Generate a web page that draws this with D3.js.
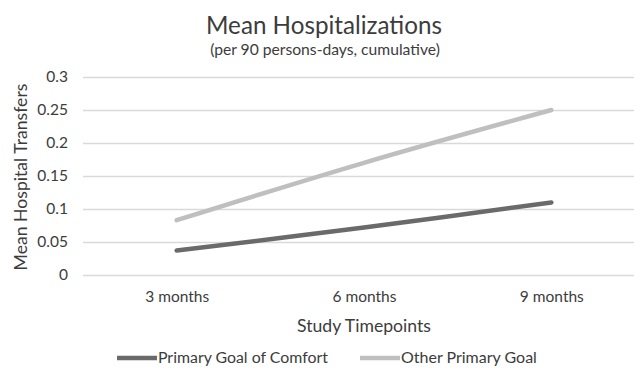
<!DOCTYPE html>
<html>
<head>
<meta charset="utf-8">
<script src="https://cdn.jsdelivr.net/npm/d3@7/dist/d3.min.js"></script>
<style>
  html, body { margin: 0; padding: 0; background: #fff; }
  svg { display: block; font-family: Lato, "Open Sans", sans-serif; }
</style>
</head>
<body>
<svg id="chart" width="634" height="369"></svg>
<script>
// Study timepoints and the mean hospital transfers per group
const timepoints = ["3 months", "6 months", "9 months"];
const comfortGoal = [0.037, 0.072, 0.11];
const otherGoal = [0.083, 0.17, 0.25];
const yTicks = [0, 0.05, 0.1, 0.15, 0.2, 0.25, 0.3];
const seriesNames = ["Primary Goal of Comfort", "Other Primary Goal"];
const seriesColors = ["#6a6a6a", "#bfbfbf"];

const svg = d3.select("#chart");
const textColor = "#3c3c3c";
const plot = { left: 83, right: 645, top: 77, bottom: 275 };

// Scale a text element's font size so it spans the given width
function fitWidth(sel, width) {
  sel.each(function () {
    const el = d3.select(this);
    const fs = parseFloat(el.attr("font-size"));
    const w = this.getComputedTextLength();
    if (w > 0) el.attr("font-size", (fs * width / w).toFixed(2));
  });
  return sel;
}

const x = d3.scalePoint().domain(timepoints).range([plot.left, plot.right]).padding(0.5);
const y = d3.scaleLinear().domain([0, 0.3]).range([plot.bottom, plot.top]);

// Title
fitWidth(svg.append("text").attr("x", 324).attr("y", 34).attr("text-anchor", "middle")
  .attr("font-size", 22).attr("fill", textColor).text("Mean Hospitalizations"), 236);
fitWidth(svg.append("text").attr("x", 325).attr("y", 55).attr("text-anchor", "middle")
  .attr("font-size", 14).attr("fill", textColor).text("(per 90 persons-days, cumulative)"), 230);

// Horizontal gridlines + y labels
const yAxis = d3.axisLeft(y).tickValues(yTicks).tickSize(-(plot.right - plot.left))
  .tickPadding(15).tickFormat(d => d3.format("")(d));
const gy = svg.append("g").attr("transform", `translate(${plot.left},0)`).call(yAxis);
gy.select(".domain").remove();
gy.selectAll(".tick line").attr("stroke", "#d9d9d9").attr("stroke-width", 1.6);
gy.selectAll(".tick text").attr("font-size", 15.5).attr("fill", textColor)
  .attr("font-family", "Lato, sans-serif");

// X labels
const xAxis = d3.axisBottom(x).tickSize(0).tickPadding(16);
const gx = svg.append("g").attr("transform", `translate(0,${plot.bottom})`).call(xAxis);
gx.select(".domain").remove();
gx.selectAll(".tick text").attr("font-size", 15.5).attr("fill", textColor)
  .attr("font-family", "Lato, sans-serif");

// Axis titles
fitWidth(svg.append("text").attr("x", 364).attr("y", 332).attr("text-anchor", "middle")
  .attr("font-size", 16).attr("fill", textColor).text("Study Timepoints"), 134);
fitWidth(svg.append("text").attr("transform", "translate(27,177) rotate(-90)").attr("text-anchor", "middle")
  .attr("font-size", 16).attr("fill", textColor).text("Mean Hospital Transfers"), 187);

// Smoothed series lines
const line = d3.line().x((d, i) => x(timepoints[i])).y(d => y(d)).curve(d3.curveCatmullRom.alpha(0.5));
[comfortGoal, otherGoal].forEach((vals, k) => {
  svg.append("path").datum(vals).attr("d", line).attr("fill", "none")
    .attr("stroke", seriesColors[k]).attr("stroke-width", 4.5).attr("stroke-linecap", "round");
});

// Legend
const legendItems = [{ x: 117, text: seriesNames[0], c: seriesColors[0], w: 170 },
                     { x: 360, text: seriesNames[1], c: seriesColors[1], w: 136 }];
legendItems.forEach(it => {
  svg.append("line").attr("x1", it.x).attr("x2", it.x + 40).attr("y1", 358).attr("y2", 358)
    .attr("stroke", it.c).attr("stroke-width", 4.5);
  fitWidth(svg.append("text").attr("x", it.x + 41).attr("y", 363).attr("font-size", 15)
    .attr("fill", textColor).text(it.text), it.w);
});
</script>
</body>
</html>
